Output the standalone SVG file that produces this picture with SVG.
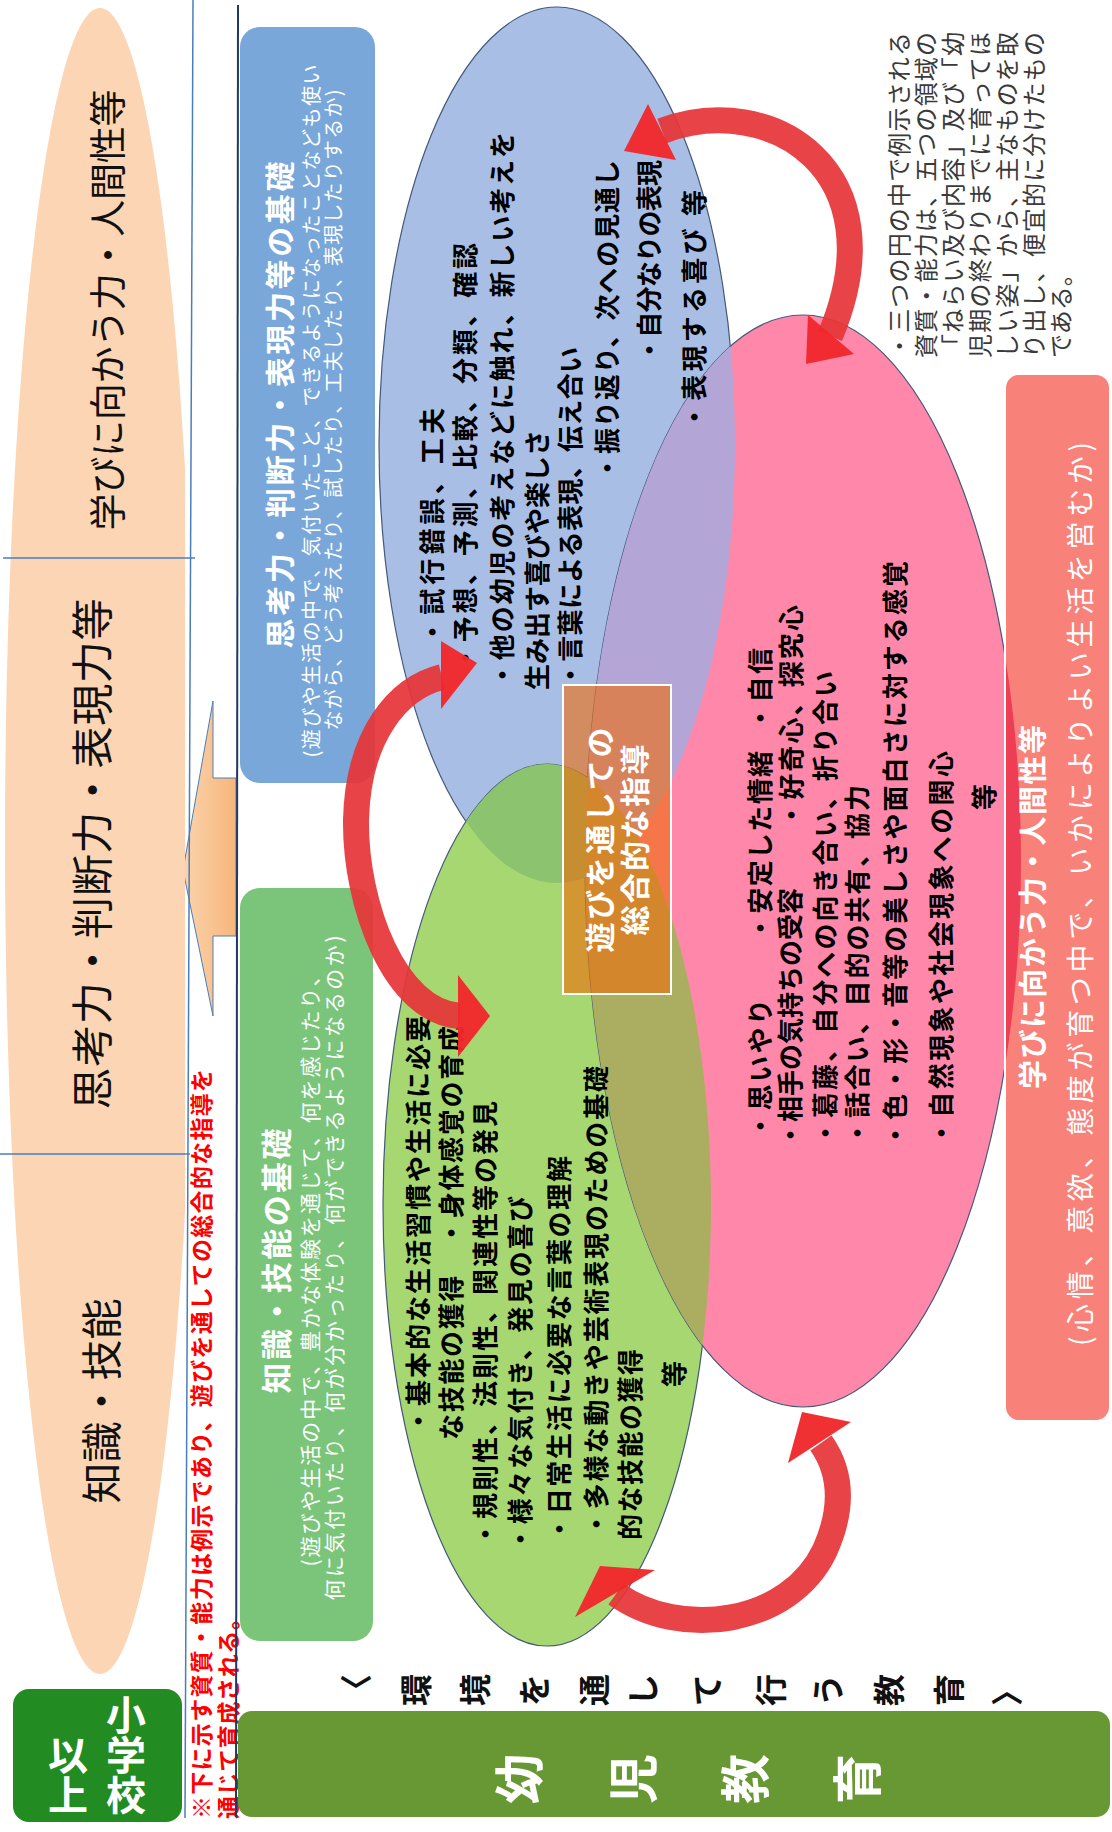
<svg xmlns="http://www.w3.org/2000/svg" width="1112" height="1832" viewBox="0 0 1112 1832">
<defs>
<style>
text{font-family:"Noto Sans CJK JP","Noto Sans CJK SC",sans-serif;dominant-baseline:central;}
.hd{fill:#111}
.e{font-size:26px;font-weight:bold;fill:#000}
.w{fill:#fff}
.wb{fill:#fff;font-weight:bold}
.note{font-size:24px;fill:#3a3a3a}
.red{font-size:23px;font-weight:bold;fill:#ff0000}
.env{font-size:32px;font-weight:bold;fill:#111}
.ell{stroke:#44587a;stroke-width:1.2}
.shaft{fill:none;stroke:#e63538;stroke-width:26;opacity:0.93}
.head{fill:#f0282c;opacity:0.96}
.div{stroke:#4a7ebb;stroke-width:1.5}
.el{font-size:40px;writing-mode:vertical-rl}
</style>
<clipPath id="cpPeach"><rect x="0" y="0" width="185" height="1832"/></clipPath>
<clipPath id="cpBlue"><ellipse cx="557" cy="445" rx="178" ry="438"/></clipPath>
<clipPath id="cpGreen"><ellipse cx="547" cy="1205" rx="164" ry="441"/></clipPath>
<clipPath id="cpBox"><rect x="1005" y="374" width="105" height="1047" rx="14"/></clipPath>
<linearGradient id="gPeachArrow" x1="0" y1="0" x2="1" y2="0">
<stop offset="0" stop-color="#fbd3ad"/><stop offset="1" stop-color="#f7b67a"/>
</linearGradient>
</defs>
<rect x="0" y="0" width="1112" height="1832" fill="#fff"/>

<g id="header">
<polygon points="236,778 213,778 213,701 183,870 213,1016 213,936 236,936" fill="url(#gPeachArrow)" stroke="#4a7ebb" stroke-width="1"/>
<ellipse cx="100" cy="841" rx="95" ry="833" fill="#fcd5b5" clip-path="url(#cpPeach)"/>
<line class="div" x1="193" y1="0" x2="185" y2="1818"/>
<line class="div" x1="3" y1="558" x2="195" y2="558"/>
<line class="div" x1="0" y1="1154" x2="190" y2="1154"/>
<text class="hd" transform="translate(106,310) rotate(-90)" text-anchor="middle" font-size="37" textLength="441">学びに向かう力・人間性等</text>
<text class="hd" transform="translate(89,854) rotate(-90)" text-anchor="middle" font-size="42" textLength="511">思考力・判断力・表現力等</text>
<text class="hd" transform="translate(99,1401) rotate(-90)" text-anchor="middle" font-size="41" textLength="205">知識・技能</text>
</g>

<g id="caution">
<text class="red" transform="translate(200,1819) rotate(-90)" textLength="750">※下に示す資質・能力は例示であり、遊びを通しての総合的な指導を</text>
<text class="red" transform="translate(227,1819) rotate(-90)" textLength="212">通じて育成される。</text>
</g>

<line x1="238" y1="5" x2="236" y2="1817" stroke="#1f3864" stroke-width="2"/>

<g id="box-thinking">
<rect x="240" y="27" width="135" height="756" rx="20" fill="#79a7d9"/>
<text class="wb" transform="translate(278,405) rotate(-90)" text-anchor="middle" font-size="30" textLength="487">思考力・判断力・表現力等の基礎</text>
<text class="w" transform="translate(310,411) rotate(-90)" text-anchor="middle" font-size="20" textLength="693">(遊びや生活の中で、気付いたこと、できるようになったことなども使い</text>
<text class="w" transform="translate(332,410) rotate(-90)" text-anchor="middle" font-size="20" textLength="641">ながら、どう考えたり、試したり、工夫したり、表現したりするか)</text>
</g>

<g id="box-knowledge">
<rect x="240" y="888" width="133" height="753" rx="20" fill="#7ac57a"/>
<text class="wb" transform="translate(274,1261) rotate(-90)" text-anchor="middle" font-size="31" textLength="265">知識・技能の基礎</text>
<text class="w" transform="translate(309,1266) rotate(-90)" text-anchor="middle" font-size="21" textLength="601">(遊びや生活の中で、豊かな体験を通じて、何を感じたり、</text>
<text class="w" transform="translate(333,1268) rotate(-90)" text-anchor="middle" font-size="21" textLength="665">何に気付いたり、何が分かったり、何ができるようになるのか)</text>
</g>

<g id="ellipses">
<ellipse id="ellipse-thinking" class="ell" cx="557" cy="445" rx="178" ry="438" fill="#a9bee4"/>
<ellipse id="ellipse-knowledge" class="ell" cx="547" cy="1205" rx="164" ry="441" fill="#a7d770"/>
<ellipse id="ellipse-attitude" class="ell" cx="803" cy="861" rx="218" ry="546" fill="#ff88aa"/>
<ellipse cx="547" cy="1205" rx="164" ry="441" fill="#8cc36e" clip-path="url(#cpBlue)"/>
<ellipse cx="803" cy="861" rx="218" ry="546" fill="#b4a5d7" clip-path="url(#cpBlue)"/>
<ellipse cx="803" cy="861" rx="218" ry="546" fill="#abae60" clip-path="url(#cpGreen)"/>
</g>

<g id="box-play">
<rect x="563" y="685" width="108" height="309" fill="#ee6b08" fill-opacity="0.6" stroke="#fff" stroke-width="2"/>
<text class="wb" transform="translate(598,840) rotate(-90)" text-anchor="middle" font-size="30" textLength="225">遊びを通しての</text>
<text class="wb" transform="translate(633,840) rotate(-90)" text-anchor="middle" font-size="30" textLength="191">総合的な指導</text>
</g>

<g id="box-attitude">
<rect x="1005" y="374" width="105" height="1047" rx="14" fill="#f8817a"/>
<ellipse cx="803" cy="861" rx="218" ry="546" fill="#ee3e55" clip-path="url(#cpBox)"/>
<rect x="1005" y="374" width="105" height="1047" rx="14" fill="none" stroke="#fff" stroke-width="2"/>
<text class="wb" transform="translate(1031,907) rotate(-90)" text-anchor="middle" font-size="29" textLength="364">学びに向かう力・人間性等</text>
<text class="w" transform="translate(1079,894) rotate(-90)" text-anchor="middle" font-size="28" textLength="904">(心情、意欲、態度が育つ中で、いかによりよい生活を営むか)</text>
</g>

<g id="text-thinking">
<text class="e" transform="translate(430,645) rotate(-90)" textLength="237">・試行錯誤、工夫</text>
<text class="e" transform="translate(463,671) rotate(-90)" textLength="428">・予想、予測、比較、分類、確認</text>
<text class="e" transform="translate(500,688) rotate(-90)" textLength="556">・他の幼児の考えなどに触れ、新しい考えを</text>
<text class="e" transform="translate(535,690) rotate(-90)" textLength="260">生み出す喜びや楽しさ</text>
<text class="e" transform="translate(568,688) rotate(-90)" textLength="341">・言葉による表現、伝え合い</text>
<text class="e" transform="translate(605,481) rotate(-90)" textLength="321">・振り返り、次への見通し</text>
<text class="e" transform="translate(647,363) rotate(-90)" textLength="203">・自分なりの表現</text>
<text class="e" transform="translate(692,430) rotate(-90)" textLength="240">・表現する喜び 等</text>
</g>

<g id="text-knowledge">
<text class="e" transform="translate(416,1434) rotate(-90)" textLength="418">・基本的な生活習慣や生活に必要</text>
<text class="e" transform="translate(449,1440) rotate(-90)" textLength="414">な技能の獲得　・身体感覚の育成</text>
<text class="e" transform="translate(483,1547) rotate(-90)" textLength="446">・規則性、法則性、関連性等の発見</text>
<text class="e" transform="translate(518,1552) rotate(-90)" textLength="356">・様々な気付き、発見の喜び</text>
<text class="e" transform="translate(557,1542) rotate(-90)" textLength="386">・日常生活に必要な言葉の理解</text>
<text class="e" transform="translate(594,1537) rotate(-90)" textLength="471">・多様な動きや芸術表現のための基礎</text>
<text class="e" transform="translate(628,1540) rotate(-90)" textLength="191">的な技能の獲得</text>
<text class="e" transform="translate(672,1374) rotate(-90)" text-anchor="middle">等</text>
</g>

<g id="text-attitude">
<text class="e" transform="translate(758,1139) rotate(-90)" textLength="140">・思いやり</text>
<text class="e" transform="translate(758,941) rotate(-90)" textLength="190">・安定した情緒</text>
<text class="e" transform="translate(758,731) rotate(-90)" textLength="83">・自信</text>
<text class="e" transform="translate(788,1148) rotate(-90)" textLength="260">・相手の気持ちの受容</text>
<text class="e" transform="translate(789,828) rotate(-90)" textLength="223">・好奇心、探究心</text>
<text class="e" transform="translate(823,1146) rotate(-90)" textLength="475">・葛藤、自分への向き合い、折り合い</text>
<text class="e" transform="translate(855,1146) rotate(-90)" textLength="361">・話合い、目的の共有、協力</text>
<text class="e" transform="translate(893,1148) rotate(-90)" textLength="587">・色・形・音等の美しさや面白さに対する感覚</text>
<text class="e" transform="translate(939,1146) rotate(-90)" textLength="395">・自然現象や社会現象への関心</text>
<text class="e" transform="translate(982,797) rotate(-90)" text-anchor="middle">等</text>
</g>

<g id="connectors">
<path class="shaft" d="M662,131 C770,90 900,170 830,336"/>
<polygon class="head" points="624,151 676,160 648,104"/>
<polygon class="head" points="806,364 808,315 854,354"/>
<path class="shaft" d="M442,677 C398,688 358,735 356,820 C355,905 395,1012 460,1016"/>
<polygon class="head" points="477,663 441,641 441,709"/>
<polygon class="head" points="490,1016 458,975 458,1057"/>
<path class="shaft" d="M616,1594 C680,1640 790,1625 825,1550 C845,1505 840,1470 821,1443"/>
<polygon class="head" points="600,1566 655,1570 575,1617"/>
<polygon class="head" points="802,1412 788,1463 851,1422"/>
</g>

<g id="note">
<text class="note" transform="translate(897,358) rotate(-90)" textLength="326">・三つの円の中で例示される</text>
<text class="note" transform="translate(924,358) rotate(-90)" textLength="326">資質・能力は、五つの領域の</text>
<text class="note" transform="translate(951,358) rotate(-90)" textLength="326">「ねらい及び内容」及び「幼</text>
<text class="note" transform="translate(978,358) rotate(-90)" textLength="326">児期の終わりまでに育ってほ</text>
<text class="note" transform="translate(1005,358) rotate(-90)" textLength="326">しい姿」から、主なものを取</text>
<text class="note" transform="translate(1032,358) rotate(-90)" textLength="326">り出し、便宜的に分けたもの</text>
<text class="note" transform="translate(1059,358) rotate(-90)">である。</text>
</g>

<g id="env-label">
<text class="env" transform="translate(354,1690) rotate(-90)" text-anchor="middle">〈</text>
<text class="env" transform="translate(414,1690) rotate(-90)" text-anchor="middle">環</text>
<text class="env" transform="translate(473,1690) rotate(-90)" text-anchor="middle">境</text>
<text class="env" transform="translate(532,1690) rotate(-90)" text-anchor="middle">を</text>
<text class="env" transform="translate(592,1690) rotate(-90)" text-anchor="middle">通</text>
<text class="env" transform="translate(641,1690) rotate(-90)" text-anchor="middle">し</text>
<text class="env" transform="translate(705,1690) rotate(-90)" text-anchor="middle">て</text>
<text class="env" transform="translate(769,1690) rotate(-90)" text-anchor="middle">行</text>
<text class="env" transform="translate(826,1690) rotate(-90)" text-anchor="middle">う</text>
<text class="env" transform="translate(887,1690) rotate(-90)" text-anchor="middle">教</text>
<text class="env" transform="translate(947,1690) rotate(-90)" text-anchor="middle">育</text>
<text class="env" transform="translate(1005,1690) rotate(-90)" text-anchor="middle">〉</text>
</g>

<g id="bar-early-childhood">
<rect x="238" y="1711" width="872" height="106" rx="14" fill="#689834"/>
<text class="wb" transform="translate(516,1779) rotate(-90)" text-anchor="middle" font-size="50">幼</text>
<text class="wb" transform="translate(630,1779) rotate(-90)" text-anchor="middle" font-size="50">児</text>
<text class="wb" transform="translate(742,1779) rotate(-90)" text-anchor="middle" font-size="50">教</text>
<text class="wb" transform="translate(854,1779) rotate(-90)" text-anchor="middle" font-size="50">育</text>
</g>

<g id="box-elementary">
<rect x="13" y="1689" width="169" height="133" rx="16" fill="#228b22"/>
<text class="wb el" x="126" y="1695">小学校</text>
<text class="wb el" x="68" y="1815" text-anchor="end">以上</text>
</g>
</svg>
